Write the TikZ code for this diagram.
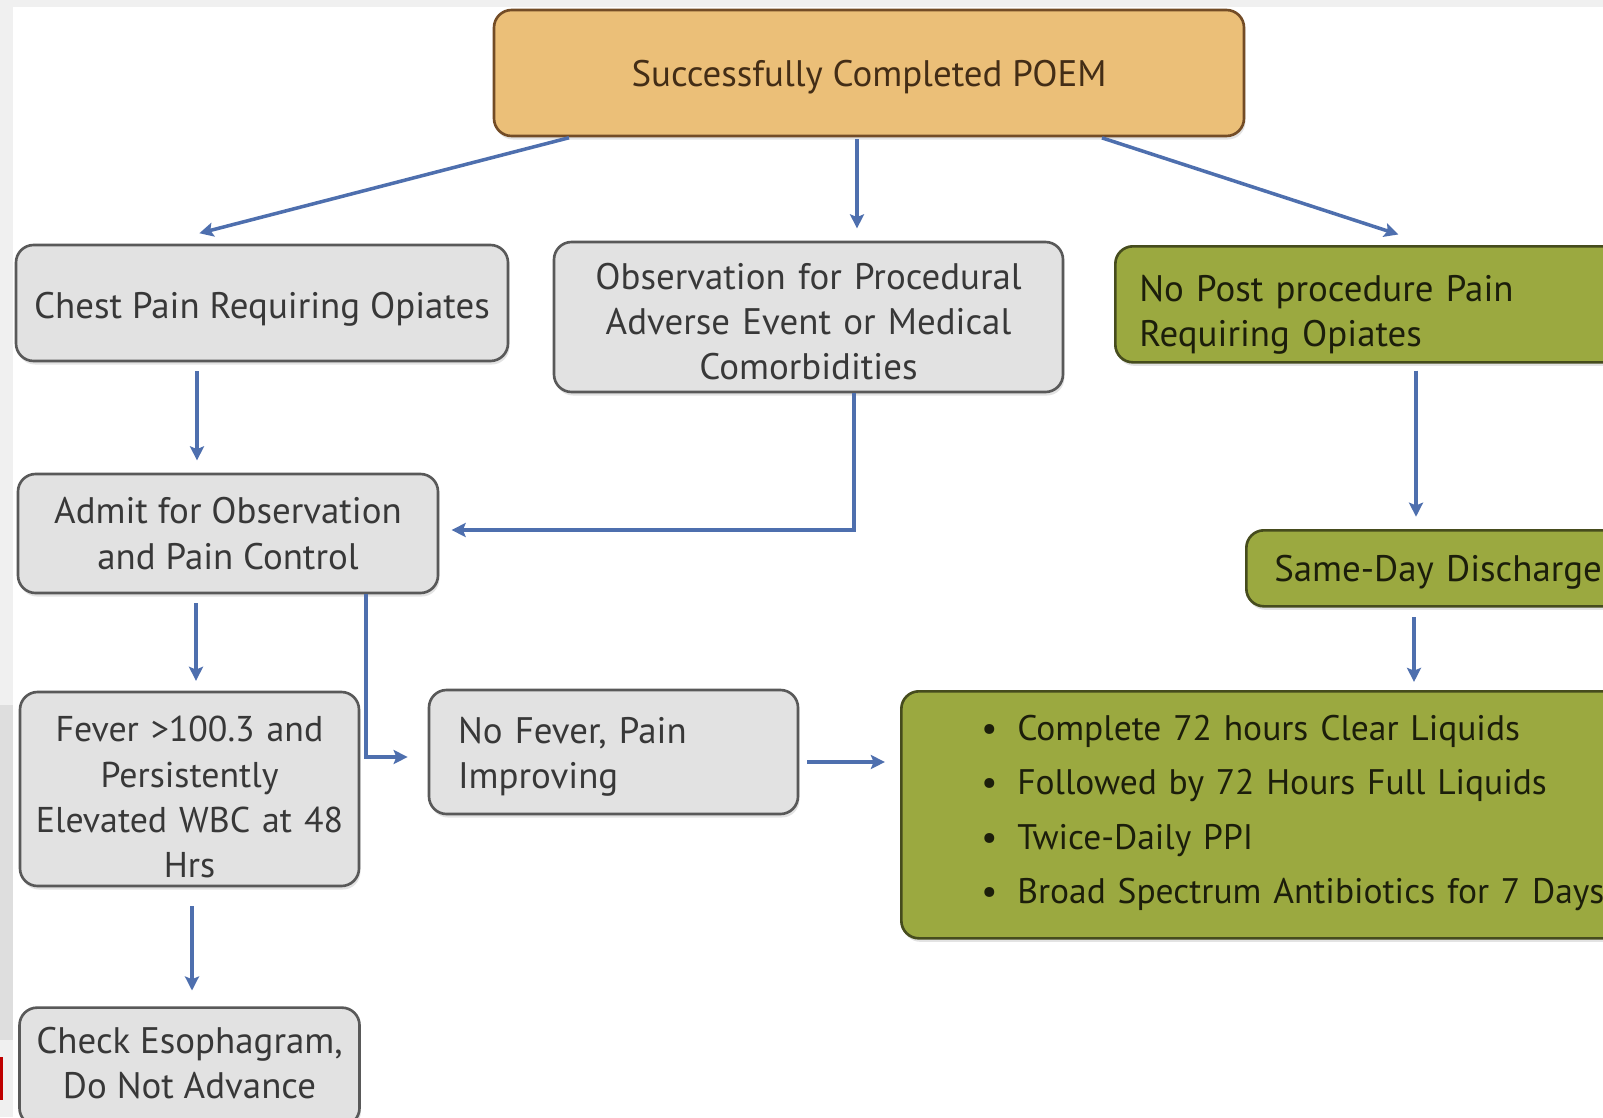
\documentclass[tikz,border=0pt]{standalone}
\usepackage{fontspec}
\setmainfont{PT Sans}
\usetikzlibrary{positioning, arrows.meta, calc, shadows}

\definecolor{poemorange}{HTML}{EBBF78}
\definecolor{poemgreen}{HTML}{9BA940}
\definecolor{boxgray}{HTML}{E2E2E2}
\definecolor{flowblue}{HTML}{4E6FAE}

\newcommand{\bulletline}[1]{\makebox[0.36cm][l]{\textbullet}#1}

\begin{document}
\begin{tikzpicture}[
    firstline/.style={execute at begin node={\rule{0pt}{#1}}},
    firstline/.default=10pt,
    lastline/.style={execute at end node={\rule[-#1]{0pt}{0pt}}},
    box/.style={draw=black!65, line width=0.75pt, rounded corners=5pt, inner sep=0pt,
                align=center, font=\fontsize{10.5}{12.9}\selectfont, text=black!78, firstline,
                drop shadow={opacity=0.22, shadow xshift=0.4pt, shadow yshift=-1pt}},
    graybox/.style={box, fill=boxgray},
    startbox/.style={box, fill=poemorange, draw=brown!60!black, text=brown!35!black},
    greenbox/.style={box, fill=poemgreen, draw=black!55!poemgreen, text=black!82!poemgreen},
    arr/.style={-{Stealth[length=4pt, width=4pt, inset=0.8pt]}, line width=1pt,
                color=flowblue, shorten <=2.5pt, shorten >=3.5pt},
]
% page and the grey screen border
\useasboundingbox (0,0) rectangle (16.03,-11.17);
\fill[white] (0,0) rectangle (16.03,-11.17);
\fill[black!6] (0,0) rectangle (16.03,-0.07);
\fill[black!6] (0,0) rectangle (0.13,-11.17);
\fill[black!13] (0,-7.05) rectangle (0.13,-10.40);
\fill[red!75!black] (0,-10.57) rectangle (0.03,-11.0);
\clip (0,0) rectangle (16.03,-11.17);

% Row 1
\node[startbox, minimum width=7.50cm, minimum height=1.26cm] (top) at (8.69,-0.73) {Successfully Completed POEM};

% Row 2: three outcomes
\node[graybox, firstline=11.2pt, minimum width=4.92cm, minimum height=1.16cm] (chest) at (2.62,-3.03) {Chest Pain Requiring Opiates};
\node[graybox, minimum width=5.09cm, minimum height=1.50cm, text width=4.9cm] (obs) at (8.085,-3.17)
    {Observation for Procedural\\Adverse Event or Medical\\Comorbidities};
\node[greenbox, firstline=13.5pt, anchor=north west, inner xsep=0.24cm, text width=5cm, align=left, minimum height=1.16cm] (nopost) at (11.14,-2.45)
    {No Post procedure Pain\\Requiring Opiates};

\draw[arr, shorten <=0.5pt, shorten >=0.5pt] ([xshift=7.8mm]top.south west) -- ([shift={(18.3mm,1mm)}]chest.north west);
\draw[arr, shorten <=0.5pt] ([xshift=-1.2mm]top.south) -- ([xshift=-1.2mm]top.south |- obs.north);
\draw[arr, shorten <=0.5pt, shorten >=0.5pt] ([xshift=-14.5mm]top.south east) -- ([shift={(28.6mm,1mm)}]nopost.north west);

% Row 3
\node[graybox, firstline=8pt, minimum width=4.20cm, minimum height=1.19cm] (admit) at (2.28,-5.335) {Admit for Observation\\and Pain Control};
\node[greenbox, anchor=north west, inner xsep=0.28cm, text width=3.6cm, align=left, minimum height=0.76cm] (same) at (12.45,-5.29)
    {Same-Day Discharge};

\draw[arr] ([xshift=-6.5mm]chest.south) -- ([xshift=-6.5mm]chest.south |- admit.north);
\draw[arr, shorten <=0pt] ([xshift=4.55mm]obs.south) |- ([yshift=0.35mm]admit.east);
\draw[arr, shorten <=2pt] ([xshift=30.2mm]nopost.south west) -- ([xshift=30.2mm]nopost.south west |- same.north);

% Row 4
\node[graybox, firstline=12pt, minimum width=3.39cm, minimum height=1.94cm, text width=3.3cm,
      font=\fontsize{10.2}{12.9}\selectfont] (fever) at (1.895,-7.89)
    {Fever >100.3 and\\Persistently\\Elevated WBC at 48\\Hrs};
\node[graybox, firstline=9.2pt, minimum width=3.69cm, minimum height=1.24cm, inner xsep=0.29cm, text width=3.11cm, align=left] (nofever) at (6.135,-7.52)
    {No Fever, Pain\\Improving};
\node[greenbox, firstline=0pt, lastline=6pt, anchor=north west, inner xsep=0.80cm, text width=6.8cm, align=left, minimum height=2.47cm,
      font=\fontsize{10.1}{15.5}\selectfont] (diet) at (9.00,-6.90)
    {\bulletline{Complete 72 hours Clear Liquids}\\
     \bulletline{Followed by 72 Hours Full Liquids}\\
     \bulletline{Twice-Daily PPI}\\
     \bulletline{Broad Spectrum Antibiotics for 7 Days}};

\draw[arr, shorten >=2.8pt] ([xshift=-3.2mm]admit.south) -- ([xshift=-3.2mm]admit.south |- fever.north);
\draw[arr, shorten <=0pt, shorten >=5.7pt] ([xshift=13.8mm]admit.south) |- ([yshift=-0.5mm]nofever.west);
\draw[arr, shorten <=2.3pt, shorten >=4.3pt] ([yshift=-1mm]nofever.east) -- ([yshift=-1mm]nofever.east -| diet.west);
\draw[arr, shorten <=2.8pt, shorten >=2.3pt] ([xshift=16.9mm]same.south west) -- ([xshift=16.9mm]same.south west |- diet.north);

% Row 5
\node[graybox, firstline=0pt, lastline=2pt, minimum width=3.40cm, minimum height=1.18cm, below=1.19cm of fever] (check) {Check Esophagram,\\Do Not Advance};
\draw[arr, shorten <=5.4pt, shorten >=4.5pt] ([xshift=0.25mm]fever.south) -- ([xshift=0.25mm]fever.south |- check.north);

\end{tikzpicture}
\end{document}
